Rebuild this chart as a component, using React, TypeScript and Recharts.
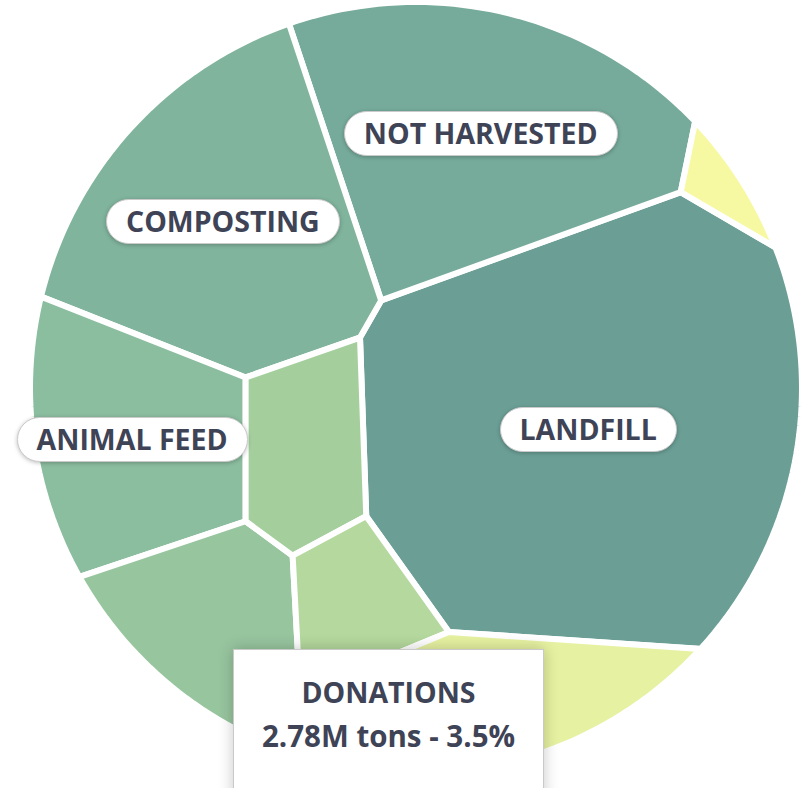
import React from "react";
import { ScatterChart, Scatter, XAxis, YAxis, Polygon } from "recharts";

// food surplus destinations, million tons
const categories = [
  "Landfill",
  "Not Harvested",
  "Composting",
  "Animal Feed",
  "Land Application",
  "Anaerobic Digestion",
  "Donations",
  "Incineration",
  "Dumping",
];
const tons = [27.1, 13.4, 12.5, 7.5, 5.0, 3.6, 2.78, 6.8, 0.76];
const colors = [
  "#6b9f96",
  "#76ab9b",
  "#80b49d",
  "#8bbd9f",
  "#97c59e",
  "#a4cf9d",
  "#b4d89d",
  "#e6f1a1",
  "#f6f9a2",
];
// seed points of the voronoi cells (unit circle, y up)
const seedX = [0.441, 0.167, -0.499, -0.721, -0.59, -0.303, -0.107, 0.342, 0.807];
const seedY = [-0.11, 0.648, 0.426, -0.136, -0.527, -0.136, -0.501, -1.587, 0.517];
const labelled = [true, true, true, true, false, false, false, false, false];
const activeIndex = 6;

type Pt = [number, number];

const RING: Pt[] = Array.from({ length: 256 }, (_, k) => {
  const a = (k / 256) * Math.PI * 2;
  return [Math.cos(a), Math.sin(a)] as Pt;
});

// keep the side a*x + b*y <= c
function clip(poly: Pt[], a: number, b: number, c: number): Pt[] {
  const out: Pt[] = [];
  for (let k = 0; k < poly.length; k++) {
    const p = poly[k];
    const q = poly[(k + 1) % poly.length];
    const fp = a * p[0] + b * p[1] - c;
    const fq = a * q[0] + b * q[1] - c;
    if (fp <= 0) out.push(p);
    if ((fp < 0 && fq > 0) || (fp > 0 && fq < 0)) {
      const t = fp / (fp - fq);
      out.push([p[0] + t * (q[0] - p[0]), p[1] + t * (q[1] - p[1])]);
    }
  }
  return out;
}

function powerCells(w: number[]): Pt[][] {
  return seedX.map((xi, i) => {
    const yi = seedY[i];
    let poly = RING;
    for (let j = 0; j < seedX.length && poly.length > 2; j++) {
      if (j === i) continue;
      const xj = seedX[j];
      const yj = seedY[j];
      poly = clip(
        poly,
        2 * (xj - xi),
        2 * (yj - yi),
        xj * xj + yj * yj - xi * xi - yi * yi - w[j] + w[i]
      );
    }
    return poly;
  });
}

function area(poly: Pt[]) {
  let s = 0;
  for (let k = 0; k < poly.length; k++) {
    const p = poly[k];
    const q = poly[(k + 1) % poly.length];
    s += p[0] * q[1] - q[0] * p[1];
  }
  return Math.abs(s) / 2;
}

function centroid(poly: Pt[]): Pt {
  let s = 0, cx = 0, cy = 0;
  for (let k = 0; k < poly.length; k++) {
    const p = poly[k];
    const q = poly[(k + 1) % poly.length];
    const f = p[0] * q[1] - q[0] * p[1];
    s += f;
    cx += (p[0] + q[0]) * f;
    cy += (p[1] + q[1]) * f;
  }
  return [cx / (3 * s), cy / (3 * s)];
}

const total = tons.reduce((s, v) => s + v, 0);
const ringArea = area(RING);
const targets = tons.map((v) => (ringArea * v) / total);

// adjust weights until each cell's area matches its share
let weights = tons.map(() => 0);
let polys = powerCells(weights);
for (let it = 0; it < 2500; it++) {
  const areas = polys.map(area);
  weights = weights.map((wi, i) => wi + 0.2 * (targets[i] - areas[i]));
  polys = powerCells(weights);
}

const cellData = polys.map((poly) => poly.map(([x, y]) => ({ x, y })));
const labelData = categories
  .map((name, i) => {
    const [x, y] = centroid(polys[i]);
    return { x, y, name };
  })
  .filter((_, i) => labelled[i]);

const textColor = "#3e4356";

function LabelPill({ cx, cy, payload }: any) {
  return (
    <foreignObject x={cx - 200} y={cy - 30} width={400} height={60}>
      <div
        style={{
          width: 400,
          height: 60,
          display: "flex",
          alignItems: "center",
          justifyContent: "center",
        }}
      >
        <span
          style={{
            background: "#fff",
            border: "1.5px solid #cbcbcb",
            borderRadius: 24,
            boxShadow: "0 1px 4px rgba(0,0,0,0.25)",
            padding: "0 19px",
            height: 43,
            lineHeight: "43px",
            fontSize: 28.5,
            fontWeight: 700,
            color: textColor,
            whiteSpace: "nowrap",
          }}
        >
          {payload.name.toUpperCase()}
        </span>
      </div>
    </foreignObject>
  );
}

export default function App() {
  const name = categories[activeIndex];
  const value = tons[activeIndex];
  const pct = ((value / total) * 100).toFixed(1);
  return (
    <div
      style={{
        position: "absolute",
        left: 0,
        top: 0,
        width: 804,
        height: 788,
        overflow: "hidden",
        background: "#fff",
        fontFamily: '"Open Sans", sans-serif',
      }}
    >
      <ScatterChart width={804} height={788} margin={{ top: 2, left: 30, right: 2, bottom: 14 }}>
        <XAxis type="number" dataKey="x" domain={[-1, 1]} hide />
        <YAxis type="number" dataKey="y" domain={[-1, 1]} hide />
        {cellData.map((pts, i) => (
          <Scatter
            key={categories[i]}
            name={categories[i]}
            data={pts}
            fill={colors[i]}
            lineType="joint"
            line={(p: any) => (
              <Polygon points={p.points} fill={colors[i]} stroke="#fff" strokeWidth={6} />
            )}
            shape={() => <g />}
            isAnimationActive={false}
          />
        ))}
        <Scatter data={labelData} shape={(p: any) => <LabelPill {...p} />} isAnimationActive={false} />
      </ScatterChart>
      <div
        style={{
          position: "absolute",
          left: 233,
          top: 649,
          width: 309,
          height: 137,
          background: "#fff",
          border: "1px solid #c9c9c9",
          boxShadow: "0 0 14px rgba(0,0,0,0.22)",
          textAlign: "center",
          color: textColor,
          fontSize: 29.5,
          fontWeight: 700,
          lineHeight: "44px",
          paddingTop: 20,
          boxSizing: "content-box",
        }}
      >
        <div style={{ fontSize: 28.5 }}>{name.toUpperCase()}</div>
        <div>{`${value}M tons - ${pct}%`}</div>
      </div>
    </div>
  );
}
